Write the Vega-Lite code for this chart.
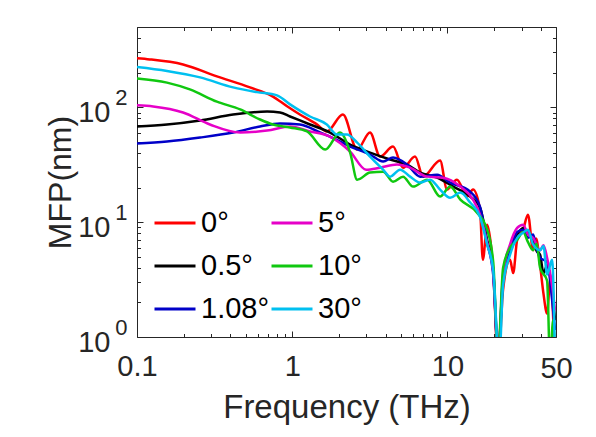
{
  "$schema": "https://vega.github.io/schema/vega-lite/v6.json",
  "autosize": {"type": "none"},
  "width": 419,
  "height": 310,
  "padding": {"left": 137, "top": 27, "right": 40, "bottom": 100},
  "background": "white",
  "config": {
    "view": {"stroke": null},
    "font": "Liberation Sans",
    "axis": {"grid": false, "domainColor": "#262626", "domainWidth": 1, "tickColor": "#262626", "labelColor": "#262626", "titleColor": "#262626", "labelFont": "Liberation Sans", "titleFont": "Liberation Sans", "titleFontWeight": "normal", "labelOverlap": false, "labelFlush": false, "labelBound": false}
  },
  "data": {"values": [
    {"angle": "0°", "f": 0.1, "mfp": 267}, {"angle": "0°", "f": 0.121, "mfp": 261}, {"angle": "0°", "f": 0.198, "mfp": 236}, {"angle": "0°", "f": 0.327, "mfp": 186}, {"angle": "0°", "f": 0.534, "mfp": 149}, {"angle": "0°", "f": 0.751, "mfp": 124}, {"angle": "0°", "f": 0.926, "mfp": 102}, {"angle": "0°", "f": 1.12, "mfp": 86.5}, {"angle": "0°", "f": 1.44, "mfp": 71}, {"angle": "0°", "f": 1.67, "mfp": 61.6}, {"angle": "0°", "f": 2.12, "mfp": 86.5}, {"angle": "0°", "f": 2.62, "mfp": 42.8}, {"angle": "0°", "f": 3.17, "mfp": 60.3}, {"angle": "0°", "f": 3.68, "mfp": 37.2}, {"angle": "0°", "f": 4.46, "mfp": 45.5}, {"angle": "0°", "f": 5.17, "mfp": 29.8}, {"angle": "0°", "f": 6.18, "mfp": 37.2}, {"angle": "0°", "f": 6.97, "mfp": 24.9}, {"angle": "0°", "f": 8.96, "mfp": 34.4}, {"angle": "0°", "f": 9.94, "mfp": 19.2}, {"angle": "0°", "f": 11.5, "mfp": 23.4}, {"angle": "0°", "f": 13.4, "mfp": 16.7}, {"angle": "0°", "f": 14.6, "mfp": 19.2}, {"angle": "0°", "f": 16.2, "mfp": 12.8}, {"angle": "0°", "f": 16.9, "mfp": 4.7}, {"angle": "0°", "f": 18.0, "mfp": 9.5}, {"angle": "0°", "f": 19.7, "mfp": 3.8}, {"angle": "0°", "f": 21.2, "mfp": 0.6}, {"angle": "0°", "f": 22.8, "mfp": 2.57}, {"angle": "0°", "f": 25.3, "mfp": 4.7}, {"angle": "0°", "f": 26.5, "mfp": 3.6}, {"angle": "0°", "f": 28.1, "mfp": 7.0}, {"angle": "0°", "f": 30.7, "mfp": 8.6}, {"angle": "0°", "f": 33.0, "mfp": 11.6}, {"angle": "0°", "f": 35.6, "mfp": 5.7}, {"angle": "0°", "f": 37.2, "mfp": 7.2}, {"angle": "0°", "f": 39.5, "mfp": 4.2}, {"angle": "0°", "f": 41.5, "mfp": 2.4}, {"angle": "0°", "f": 43.8, "mfp": 1.6}, {"angle": "0°", "f": 45.8, "mfp": 3.1}, {"angle": "0°", "f": 49.3, "mfp": 0.6},

    {"angle": "0.5°", "f": 0.1, "mfp": 68}, {"angle": "0.5°", "f": 0.156, "mfp": 70.8}, {"angle": "0.5°", "f": 0.255, "mfp": 76.8}, {"angle": "0.5°", "f": 0.416, "mfp": 86.5}, {"angle": "0.5°", "f": 0.689, "mfp": 91.9}, {"angle": "0.5°", "f": 0.834, "mfp": 90.1}, {"angle": "0.5°", "f": 0.968, "mfp": 83.1}, {"angle": "0.5°", "f": 1.302, "mfp": 70.8}, {"angle": "0.5°", "f": 1.75, "mfp": 60.3}, {"angle": "0.5°", "f": 2.36, "mfp": 47.4}, {"angle": "0.5°", "f": 3.17, "mfp": 40.3}, {"angle": "0.5°", "f": 4.27, "mfp": 35.1}, {"angle": "0.5°", "f": 5.49, "mfp": 31.7}, {"angle": "0.5°", "f": 6.66, "mfp": 27.0}, {"angle": "0.5°", "f": 8.57, "mfp": 24.4}, {"angle": "0.5°", "f": 10.9, "mfp": 20.4}, {"angle": "0.5°", "f": 14.0, "mfp": 16.7}, {"angle": "0.5°", "f": 16.2, "mfp": 13.4}, {"angle": "0.5°", "f": 18.0, "mfp": 7.0}, {"angle": "0.5°", "f": 19.7, "mfp": 3.8}, {"angle": "0.5°", "f": 21.2, "mfp": 0.7}, {"angle": "0.5°", "f": 22.8, "mfp": 3.1}, {"angle": "0.5°", "f": 25.3, "mfp": 5.7}, {"angle": "0.5°", "f": 28.1, "mfp": 7.8}, {"angle": "0.5°", "f": 30.7, "mfp": 8.9}, {"angle": "0.5°", "f": 33.0, "mfp": 8.1}, {"angle": "0.5°", "f": 35.6, "mfp": 7.0}, {"angle": "0.5°", "f": 37.5, "mfp": 5.6}, {"angle": "0.5°", "f": 39.5, "mfp": 5.2}, {"angle": "0.5°", "f": 41.5, "mfp": 3.6}, {"angle": "0.5°", "f": 43.8, "mfp": 4.2}, {"angle": "0.5°", "f": 47.2, "mfp": 2.6}, {"angle": "0.5°", "f": 49.3, "mfp": 1.4},

    {"angle": "1.08°", "f": 0.1, "mfp": 48.3}, {"angle": "1.08°", "f": 0.156, "mfp": 50.3}, {"angle": "1.08°", "f": 0.255, "mfp": 54.5}, {"angle": "1.08°", "f": 0.416, "mfp": 60.3}, {"angle": "1.08°", "f": 0.62, "mfp": 68}, {"angle": "1.08°", "f": 0.834, "mfp": 72.2}, {"angle": "1.08°", "f": 1.12, "mfp": 70.8}, {"angle": "1.08°", "f": 1.51, "mfp": 60.3}, {"angle": "1.08°", "f": 1.75, "mfp": 55.6}, {"angle": "1.08°", "f": 2.36, "mfp": 45.5}, {"angle": "1.08°", "f": 3.17, "mfp": 38.8}, {"angle": "1.08°", "f": 3.85, "mfp": 33.7}, {"angle": "1.08°", "f": 4.46, "mfp": 36.5}, {"angle": "1.08°", "f": 5.49, "mfp": 31.7}, {"angle": "1.08°", "f": 6.66, "mfp": 24.9}, {"angle": "1.08°", "f": 8.57, "mfp": 25.9}, {"angle": "1.08°", "f": 10.4, "mfp": 22.1}, {"angle": "1.08°", "f": 14.0, "mfp": 18.4}, {"angle": "1.08°", "f": 16.2, "mfp": 13.6}, {"angle": "1.08°", "f": 18.0, "mfp": 6.6}, {"angle": "1.08°", "f": 19.7, "mfp": 3.5}, {"angle": "1.08°", "f": 21.2, "mfp": 0.7}, {"angle": "1.08°", "f": 22.8, "mfp": 3.3}, {"angle": "1.08°", "f": 25.3, "mfp": 5.7}, {"angle": "1.08°", "f": 28.1, "mfp": 8.2}, {"angle": "1.08°", "f": 30.7, "mfp": 8.6}, {"angle": "1.08°", "f": 33.0, "mfp": 7.3}, {"angle": "1.08°", "f": 35.6, "mfp": 7.8}, {"angle": "1.08°", "f": 37.5, "mfp": 5.9}, {"angle": "1.08°", "f": 39.5, "mfp": 4.9}, {"angle": "1.08°", "f": 43.8, "mfp": 4.5}, {"angle": "1.08°", "f": 47.2, "mfp": 2.1}, {"angle": "1.08°", "f": 49.3, "mfp": 1.15},

    {"angle": "5°", "f": 0.1, "mfp": 104}, {"angle": "5°", "f": 0.127, "mfp": 101.6}, {"angle": "5°", "f": 0.198, "mfp": 90.1}, {"angle": "5°", "f": 0.295, "mfp": 70.8}, {"angle": "5°", "f": 0.462, "mfp": 60.3}, {"angle": "5°", "f": 0.689, "mfp": 62.8}, {"angle": "5°", "f": 0.968, "mfp": 68}, {"angle": "5°", "f": 1.302, "mfp": 61.6}, {"angle": "5°", "f": 1.75, "mfp": 55.6}, {"angle": "5°", "f": 2.36, "mfp": 41.1}, {"angle": "5°", "f": 2.99, "mfp": 28.6}, {"angle": "5°", "f": 3.68, "mfp": 29.8}, {"angle": "5°", "f": 4.73, "mfp": 31.7}, {"angle": "5°", "f": 5.74, "mfp": 29.8}, {"angle": "5°", "f": 7.39, "mfp": 24.9}, {"angle": "5°", "f": 9.37, "mfp": 24.4}, {"angle": "5°", "f": 12.1, "mfp": 20.4}, {"angle": "5°", "f": 14.6, "mfp": 15.7}, {"angle": "5°", "f": 16.2, "mfp": 11.6}, {"angle": "5°", "f": 18.0, "mfp": 6.6}, {"angle": "5°", "f": 19.7, "mfp": 3.7}, {"angle": "5°", "f": 21.2, "mfp": 0.7}, {"angle": "5°", "f": 22.8, "mfp": 3.5}, {"angle": "5°", "f": 25.3, "mfp": 6.4}, {"angle": "5°", "f": 28.1, "mfp": 8.9}, {"angle": "5°", "f": 30.7, "mfp": 9.5}, {"angle": "5°", "f": 33.0, "mfp": 7.8}, {"angle": "5°", "f": 35.6, "mfp": 7.3}, {"angle": "5°", "f": 39.5, "mfp": 5.7}, {"angle": "5°", "f": 41.5, "mfp": 6.3}, {"angle": "5°", "f": 43.8, "mfp": 4.9}, {"angle": "5°", "f": 47.2, "mfp": 2.8}, {"angle": "5°", "f": 49.3, "mfp": 1.7},

    {"angle": "10°", "f": 0.1, "mfp": 178}, {"angle": "10°", "f": 0.156, "mfp": 164}, {"angle": "10°", "f": 0.219, "mfp": 143}, {"angle": "10°", "f": 0.327, "mfp": 112}, {"angle": "10°", "f": 0.462, "mfp": 95.7}, {"angle": "10°", "f": 0.62, "mfp": 78.3}, {"angle": "10°", "f": 0.751, "mfp": 70.8}, {"angle": "10°", "f": 0.968, "mfp": 66.7}, {"angle": "10°", "f": 1.245, "mfp": 61.6}, {"angle": "10°", "f": 1.63, "mfp": 42.8}, {"angle": "10°", "f": 2.03, "mfp": 60.3}, {"angle": "10°", "f": 2.36, "mfp": 40.3}, {"angle": "10°", "f": 2.62, "mfp": 23.4}, {"angle": "10°", "f": 3.17, "mfp": 27}, {"angle": "10°", "f": 3.85, "mfp": 27.5}, {"angle": "10°", "f": 4.46, "mfp": 22.5}, {"angle": "10°", "f": 5.17, "mfp": 24.9}, {"angle": "10°", "f": 6.0, "mfp": 20.4}, {"angle": "10°", "f": 7.39, "mfp": 23.4}, {"angle": "10°", "f": 8.96, "mfp": 16.7}, {"angle": "10°", "f": 10.4, "mfp": 20.4}, {"angle": "10°", "f": 12.1, "mfp": 15.7}, {"angle": "10°", "f": 15.5, "mfp": 12.1}, {"angle": "10°", "f": 18.0, "mfp": 8.6}, {"angle": "10°", "f": 19.7, "mfp": 4.5}, {"angle": "10°", "f": 21.2, "mfp": 0.7}, {"angle": "10°", "f": 22.8, "mfp": 4.0}, {"angle": "10°", "f": 25.3, "mfp": 6.0}, {"angle": "10°", "f": 28.1, "mfp": 7.0}, {"angle": "10°", "f": 30.7, "mfp": 8.2}, {"angle": "10°", "f": 33.0, "mfp": 6.7}, {"angle": "10°", "f": 35.6, "mfp": 5.7}, {"angle": "10°", "f": 37.5, "mfp": 6.5}, {"angle": "10°", "f": 39.5, "mfp": 4.0}, {"angle": "10°", "f": 43.8, "mfp": 3.1}, {"angle": "10°", "f": 45.8, "mfp": 0.6}, {"angle": "10°", "f": 47.9, "mfp": 1.4}, {"angle": "10°", "f": 49.3, "mfp": 0.6},

    {"angle": "30°", "f": 0.1, "mfp": 224}, {"angle": "30°", "f": 0.156, "mfp": 207}, {"angle": "30°", "f": 0.255, "mfp": 182}, {"angle": "30°", "f": 0.416, "mfp": 149}, {"angle": "30°", "f": 0.593, "mfp": 135.5}, {"angle": "30°", "f": 0.798, "mfp": 127}, {"angle": "30°", "f": 0.968, "mfp": 106}, {"angle": "30°", "f": 1.302, "mfp": 83.1}, {"angle": "30°", "f": 1.67, "mfp": 70.8}, {"angle": "30°", "f": 1.94, "mfp": 57.9}, {"angle": "30°", "f": 2.25, "mfp": 57.9}, {"angle": "30°", "f": 2.62, "mfp": 49.3}, {"angle": "30°", "f": 3.17, "mfp": 37.2}, {"angle": "30°", "f": 3.85, "mfp": 28.6}, {"angle": "30°", "f": 4.27, "mfp": 24.9}, {"angle": "30°", "f": 4.95, "mfp": 28.6}, {"angle": "30°", "f": 5.74, "mfp": 24.9}, {"angle": "30°", "f": 6.66, "mfp": 22.1}, {"angle": "30°", "f": 7.73, "mfp": 23.4}, {"angle": "30°", "f": 8.96, "mfp": 19.2}, {"angle": "30°", "f": 10.4, "mfp": 16.3}, {"angle": "30°", "f": 12.1, "mfp": 18.1}, {"angle": "30°", "f": 14.0, "mfp": 14.8}, {"angle": "30°", "f": 16.2, "mfp": 11.1}, {"angle": "30°", "f": 18.0, "mfp": 6.4}, {"angle": "30°", "f": 19.7, "mfp": 3.8}, {"angle": "30°", "f": 21.5, "mfp": 0.6}, {"angle": "30°", "f": 22.8, "mfp": 2.8}, {"angle": "30°", "f": 25.3, "mfp": 5.2}, {"angle": "30°", "f": 28.1, "mfp": 7.3}, {"angle": "30°", "f": 30.7, "mfp": 8.1}, {"angle": "30°", "f": 33.0, "mfp": 8.6}, {"angle": "30°", "f": 35.6, "mfp": 6.4}, {"angle": "30°", "f": 39.5, "mfp": 5.7}, {"angle": "30°", "f": 41.5, "mfp": 6.2}, {"angle": "30°", "f": 43.8, "mfp": 3.5}, {"angle": "30°", "f": 47.2, "mfp": 4.7}, {"angle": "30°", "f": 49.3, "mfp": 0.6}
  ]},
  "layer": [
    {
      "mark": {"type": "line", "strokeWidth": 2.5, "clip": true, "interpolate": "monotone"},
      "encoding": {
        "x": {
          "field": "f", "type": "quantitative",
          "scale": {"type": "log", "domain": [0.1, 50], "nice": false},
          "axis": {
            "orient": "bottom",
            "values": [0.1, 0.2, 0.3, 0.4, 0.5, 0.6, 0.7, 0.8, 0.9, 1, 2, 3, 4, 5, 6, 7, 8, 9, 10, 20, 30, 40, 50],
            "labelExpr": "datum.value == 0.1 ? '0.1' : datum.value == 1 ? '1' : datum.value == 10 ? '10' : datum.value == 50 ? '50' : ''",
            "labelFontSize": 29,
            "labelPadding": 21,
            "tickSize": {"condition": {"test": "datum.value == 0.1 || datum.value == 1 || datum.value == 10", "value": -6}, "value": -3.5},
            "title": "Frequency (THz)",
            "titleFontSize": 33,
            "titleX": 209.5,
            "titleY": 80,
            "titleAnchor": "middle",
            "titleAlign": "center",
            "titleBaseline": "alphabetic"
          }
        },
        "y": {
          "field": "mfp", "type": "quantitative",
          "scale": {"type": "log", "domain": [1, 500], "nice": false},
          "axis": {
            "orient": "left",
            "values": [1, 2, 3, 4, 5, 6, 7, 8, 9, 10, 20, 30, 40, 50, 60, 70, 80, 90, 100, 200, 300, 400, 500],
            "labelExpr": "datum.value == 1 || datum.value == 10 || datum.value == 100 ? '10' : ''",
            "labelFontSize": 29,
            "labelPadding": 33,
            "labelOffset": 5,
            "tickSize": {"condition": {"test": "datum.value == 1 || datum.value == 10 || datum.value == 100", "value": -6}, "value": -3.5},
            "title": "MFP(nm)",
            "titleFontSize": 32,
            "titleX": -77,
            "titleY": 155,
            "titleAngle": -90,
            "titleAlign": "center",
            "titleBaseline": "middle"
          }
        },
        "color": {
          "field": "angle", "type": "nominal",
          "scale": {
            "domain": ["0°", "5°", "0.5°", "10°", "1.08°", "30°"],
            "range": ["#ff0000", "#e600c8", "#000000", "#10c810", "#0000c8", "#00c0f0"]
          },
          "legend": {
            "orient": "none",
            "legendX": 16,
            "legendY": 174,
            "columns": 2,
            "direction": "horizontal",
            "title": null,
            "symbolType": "stroke",
            "symbolSize": 1681,
            "symbolStrokeWidth": 3,
            "labelFontSize": 29,
            "labelFont": "Liberation Sans",
            "labelColor": "#000000",
            "labelOffset": 4,
            "labelLimit": 0,
            "rowPadding": 6,
            "columnPadding": -21,
            "padding": 0
          }
        }
      }
    },
    {
      "mark": {"type": "line", "opacity": 0},
      "encoding": {
        "x": {
          "field": "f", "type": "quantitative",
          "scale": {"type": "log", "domain": [0.1, 50], "nice": false},
          "axis": {
            "orient": "top",
            "values": [0.1, 0.2, 0.3, 0.4, 0.5, 0.6, 0.7, 0.8, 0.9, 1, 2, 3, 4, 5, 6, 7, 8, 9, 10, 20, 30, 40, 50],
            "labels": false,
            "tickSize": {"condition": {"test": "datum.value == 0.1 || datum.value == 1 || datum.value == 10", "value": -6}, "value": -3.5},
            "title": null
          }
        },
        "y": {
          "field": "mfp", "type": "quantitative",
          "scale": {"type": "log", "domain": [1, 500], "nice": false},
          "axis": {
            "orient": "left",
            "values": [1, 10, 100],
            "labelExpr": "datum.value == 1 ? '0' : datum.value == 10 ? '1' : '2'",
            "ticks": false,
            "domain": false,
            "labelFontSize": 22,
            "labelPadding": 10,
            "labelOffset": -10,
            "title": null
          }
        }
      }
    },
    {
      "mark": {"type": "line", "opacity": 0},
      "encoding": {
        "x": {
          "field": "f", "type": "quantitative",
          "scale": {"type": "log", "domain": [0.1, 50], "nice": false},
          "axis": null
        },
        "y": {
          "field": "mfp", "type": "quantitative",
          "scale": {"type": "log", "domain": [1, 500], "nice": false},
          "axis": {
            "orient": "right",
            "values": [1, 2, 3, 4, 5, 6, 7, 8, 9, 10, 20, 30, 40, 50, 60, 70, 80, 90, 100, 200, 300, 400, 500],
            "labels": false,
            "tickSize": {"condition": {"test": "datum.value == 1 || datum.value == 10 || datum.value == 100", "value": -6}, "value": -3.5},
            "title": null
          }
        }
      }
    }
  ],
  "resolve": {"axis": {"x": "independent", "y": "independent"}}
}
